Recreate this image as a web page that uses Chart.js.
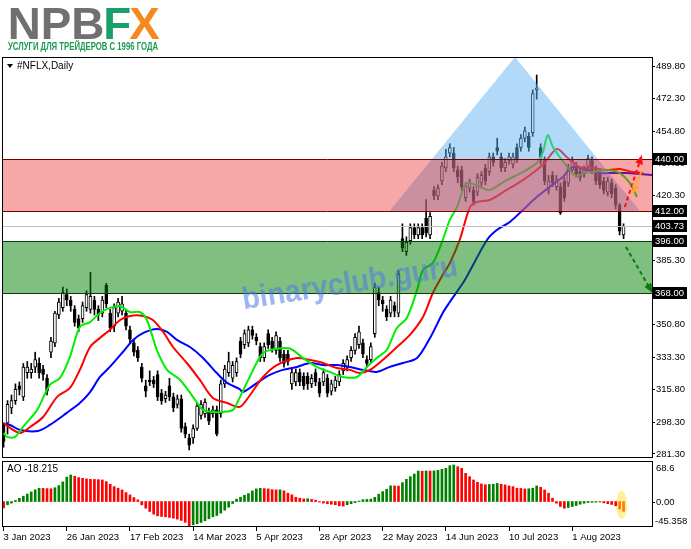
<!DOCTYPE html>
<html>
<head>
<meta charset="utf-8">
<script src="https://cdn.jsdelivr.net/npm/chart.js@4/dist/chart.umd.min.js"></script>
<style>
  body { margin: 0; background: #fff; width: 691px; height: 549px; overflow: hidden; position: relative; }
  canvas { position: absolute; left: 0; }
  #logo { top: 0; }
  #main { top: 57px; }
  #ao { top: 461px; }
</style>
</head>
<body>
<canvas id="logo" width="220" height="57"></canvas>
<canvas id="main" width="691" height="401"></canvas>
<canvas id="ao" width="691" height="88"></canvas>
<script>
// NFLX daily, 3 Jan 2023 .. 18 Aug 2023 (one value per bar)
var opens = [297,298,306,310,318,312,325,325,328,330,327,322,336,341,356,360,367,364,359,354,
  354,360,359,364,359,357,372,357,350,357,358,357,348,341,337,328,318,321,321,324,
  314,311,318,312,308,311,296,290,290,295,302,303,304,303,305,303,319,325,322,325,
  342,340,341,348,344,339,333,346,342,337,342,335,335,319,320,325,323,323,319,325,
  320,320,322,315,317,320,326,328,333,337,340,341,332,332,346,368,364,359,357,361,
  357,397,390,396,403,399,403,408,399,423,420,428,435,443,443,434,434,419,424,423,
  422,427,435,433,441,446,441,435,439,437,446,446,451,452,454,477,446,439,423,431,
  425,425,428,427,434,436,433,432,436,439,434,432,428,422,427,424,415,399];
var highs = [298,310,313,319,320,330,331,330,336,333,329,324,344,358,365,371,370,366,361,356,
  363,369,379,366,361,366,373,359,362,365,366,359,350,343,339,330,321,326,323,326,
  316,315,322,314,313,313,298,292,297,309,310,311,306,307,307,321,329,336,331,333,
  344,348,350,350,346,341,341,348,344,347,344,337,337,327,327,327,325,325,324,327,
  322,327,324,321,323,326,332,334,339,346,350,343,334,341,373,371,366,361,366,363,
  380,405,398,405,405,405,405,418,411,425,426,438,445,448,446,436,436,427,429,425,
  432,433,437,443,443,451,443,440,443,443,448,453,457,454,477,485,448,441,431,433,
  431,427,430,437,441,438,435,436,442,441,436,434,430,430,429,426,416,405];
var lows = [285,292,303,308,313,310,322,322,325,322,321,313,333,339,354,358,361,358,350,347,
  352,358,357,356,353,355,360,347,347,355,356,348,341,334,331,320,312,318,317,310,
  308,309,310,304,306,293,290,283.5,287,294,300,301,297,301,291,301,317,323,320,323,
  333,338,339,343,340,331,331,338,336,335,331,328,329,316,318,318,316,316,317,318,
  312,318,312,313,315,318,324,326,331,335,338,333,328,330,344,361,358,353,355,355,
  355,390,388,394,397,397,397,398,397,418,418,426,433,441,433,427,423,417,422,415,
  420,425,426,431,436,442,433,433,437,435,438,444,449,444,452,472,437,426,421,425,
  423,410,417,425,432,430,428,430,434,432,426,424,421,420,419,413,399,397];
var closes = [288,308,310,316,316,328,328,327,332,325,324,315,342,357,363,368,364,361,352,349,
  361,367,366,359,356,364,362,349,360,363,362,350,343,336,333,322,315,320,319,312,
  310,313,312,306,311,295,292,286,295,307,308,309,299,305,292,319,327,331,329,331,
  335,346,348,345,342,333,339,340,338,345,333,330,331,325,325,320,318,319,322,320,
  314,325,314,319,321,324,330,332,337,344,347,335,330,339,371,364,362,355,364,358,
  378,392,395,403,399,403,399,400,409,420,424,436,441,446,435,430,425,425,427,417,
  430,431,428,441,438,444,435,438,441,441,440,451,455,446,475,478,441,428,428,427,
  429,411,419,435,439,432,430,434,440,434,428,426,423,428,421,415,401,403.73];

// Alligator lines at sample bars (bar index, price)
var jawIdx = [0,1.6,4.2,8.7,11.7,16,19.3,21.9,24.4,26.9,30.2,32.8,35.3,38.8,41.4,43.9,47.2,50.5,54,56.6,
  59.8,60.6,64.2,67.4,70.7,74.3,77.6,80.9,84.4,87.7,91,94.5,97.8,101.1,104.7,108,111.2,113,116.8,122.4,
  124.9,128.2,131.5,135,138.3,141.6,144.1,147.7,151,154.3,157.8,161.1,164.2];
var jawVal = [297.4,296.9,294.2,293.7,296.9,303.4,308.7,314.6,322.7,328.1,336.1,342.6,346.3,348.5,346.9,342.6,338.8,332.9,324.8,319.5,
  316.2,314.6,319.5,323.8,326.5,328.1,330.2,329.1,329.1,328.1,326.5,325.4,328.1,330.2,332.9,343.7,357.1,363,374.8,396.3,
  401.7,406,412.4,419.4,424.8,430.2,435.5,433.9,432.3,432.3,432.3,431.8,431.2];
var teethIdx = [0,1.6,4.2,6.7,10,13.5,16.8,19.3,21.9,24.4,26.9,29.5,32,35.3,37.8,40.4,42.9,46.4,49.7,53,
  56.6,59.8,62.4,65.7,69.2,74.3,77.6,80.9,84.4,87.7,90.2,92.8,96,99.6,102.9,106.2,108.7,111.2,113,115.5,
  118.1,119.8,123.1,127.4,131.5,136.5,140.1,142.6,145.9,149.2,152.7,156,159.3,162];
var teethVal = [298,295.3,292.6,295.8,301.2,311.9,316.8,326.5,338.8,343.7,348,353.3,355.5,355.5,353.3,346.9,338.8,330.2,321.1,311.4,
  308.7,306.6,313,322.7,329.1,332.9,331.8,330.2,327.5,326.5,324.8,326.5,331.8,338.8,345.3,354.9,367.8,377.5,383.9,396.3,
  414,416.7,417.8,423.2,428.5,436.6,445.2,440.9,435.5,435,433.9,434.5,432.8,432.3];
var lipsIdx = [0,0.9,2.9,4.9,8.5,11.7,14.3,16.8,19.3,21.9,24.4,26.9,29.5,32,34.5,36.3,38.8,41.4,44.7,48,
  50.5,53,55.5,58.1,59.3,62.4,65.7,69.2,72.5,75.8,79.3,82.6,85.9,89.5,92,94.5,97,99.6,102.1,104.7,
  106.2,108.7,111.2,113,114.8,117.3,120.6,123.1,127.4,131.5,135,136.5,137.8,139.1,141.4,143.4,145.2,146.7,149.2,152.7,
  156,158.6,160.4];
var lipsVal = [292.6,290.5,290.5,295.8,305,318.4,322.2,333.5,349.6,352.2,357.1,359.8,360.8,357.6,357.6,353.3,337.2,326.5,321.1,311.9,
  305,303.9,303.9,305,309.5,323,335.6,337.8,338,332.9,328.1,325.4,322.7,322.7,328.1,332.9,337.2,349,354.4,369.4,
  380.2,384,396.3,407.1,414,426.9,424.8,423.2,428.5,432.8,437.7,443.1,452.7,446.3,439.3,433.9,430.2,432.3,432.8,433.9,
  432.3,426.9,419.4];

// Awesome Oscillator, one value per bar
var aoValues = [-12,-6,-3,2,6,10,14,18,22,25,24.7,24.3,24,26,30,37,46,49.8,47.4,44.9,
  43.6,42.4,41.7,41.5,41.1,40.5,37.4,32.4,28,25,21.8,16.8,12.5,7.5,3.1,-6.2,-12.5,-18.7,-23.7,-26.8,
  -28,-28.7,-29.9,-31.2,-33,-35.5,-39,-45.358,-43.6,-41.7,-39.3,-36.1,-32.4,-28.7,-26.2,-21.8,-16.2,-10.6,-3.7,4.4,
  8.1,11.8,15,20,23.7,24.9,24.3,23.7,22.4,21.8,22,20,15.6,12.5,8.1,6.2,5,5.3,4,2.5,
  -1,-3,-4,-5,-6,-8,-8.5,-6,-4,-2,1,3.5,4,4.5,8,13.7,18.7,23.1,29.5,29.3,
  29,35.5,41.7,46.7,51.7,57.3,57,57.4,57.2,57.5,58.6,60.4,62.3,67.3,68.6,65.4,62.3,53,46.7,40.5,
  36.1,33,31.5,32,32.5,34,32.4,31.2,29.3,28,24.9,24.6,23.7,24,25,29.3,26.8,21.8,15.6,6.2,
  -3.1,-9.3,-12.5,-11.2,-9.3,-7.5,-5,-3.1,-1.9,-1.5,-1.2,-0.8,-2.5,-4,-5.5,-8,-14,-18.215];

var tickIdx = [0,16,32,48,64,80,96,112,128,144];
var tickLabels = ['3 Jan 2023','26 Jan 2023','17 Feb 2023','14 Mar 2023','5 Apr 2023',
  '28 Apr 2023','22 May 2023','14 Jun 2023','10 Jul 2023','1 Aug 2023'];
var priceTicks = [489.8,472.3,454.8,437.3,420.3,402.8,385.3,367.8,350.8,333.3,315.8,298.3,281.3];
var aoTicks = [68.6, 0, -45.358];

// drawn objects on the chart
var resistZone = [412, 440];
var supportZone = [368, 396];
var lastPrice = 403.73;
var markedLevels = [440, 412, 403.73, 396, 368];
var triIdx = [97.8, 129.5, 161.1];
var triVal = [412, 494.6, 412];
var upArrowIdx = [157.3, 161.4];
var upArrowVal = [414, 440.4];
var midArrowIdx = [161.6, 159.6];
var midArrowVal = [433.5, 422.5];
var downArrowIdx = [157.6, 163.9];
var downArrowVal = [392.6, 369.4];

var FONT = '"Liberation Sans", Arial, sans-serif';
var xMin = -0.15, xMax = 164.2;

// ---- logo
(function () {
  var c = document.getElementById('logo').getContext('2d');
  c.save();
  c.scale(1.04, 1);
  c.font = 'bold 44px ' + FONT;
  c.textBaseline = 'alphabetic';
  c.fillStyle = '#707070';
  c.fillText('NPB', 7.5, 39);
  var w = c.measureText('NPB').width;
  c.fillStyle = '#17a06c';
  c.fillText('F', 7.5 + w - 1, 39);
  var wf = c.measureText('F').width;
  c.fillStyle = '#f5891f';
  c.fillText('X', 7.5 + w + wf - 3, 39);
  c.restore();
  c.font = 'bold 11px ' + FONT;
  c.fillStyle = '#1c9a50';
  c.fillText('УСЛУГИ ДЛЯ ТРЕЙДЕРОВ С 1996 ГОДА', 8, 50, 150);
})();

function frame(chart) {
  var a = chart.chartArea, ctx = chart.ctx;
  ctx.save();
  ctx.strokeStyle = '#000';
  ctx.lineWidth = 1;
  ctx.strokeRect(a.left - 0.5, a.top + 0.5, a.right - a.left + 1, a.bottom - a.top - 1);
  ctx.restore();
}

function noPad(s) {
  s.paddingTop = 0; s.paddingBottom = 0; s.paddingLeft = 0; s.paddingRight = 0;
}

function arrow(ctx, x1, y1, x2, y2, color, dash) {
  ctx.save();
  ctx.strokeStyle = color;
  ctx.fillStyle = color;
  ctx.lineWidth = 2;
  ctx.setLineDash(dash);
  ctx.beginPath(); ctx.moveTo(x1, y1); ctx.lineTo(x2, y2); ctx.stroke();
  ctx.setLineDash([]);
  var ang = Math.atan2(y2 - y1, x2 - x1);
  ctx.beginPath();
  ctx.moveTo(x2 + 3 * Math.cos(ang), y2 + 3 * Math.sin(ang));
  ctx.lineTo(x2 - 6 * Math.cos(ang) + 4 * Math.sin(ang), y2 - 6 * Math.sin(ang) - 4 * Math.cos(ang));
  ctx.lineTo(x2 - 6 * Math.cos(ang) - 4 * Math.sin(ang), y2 - 6 * Math.sin(ang) + 4 * Math.cos(ang));
  ctx.closePath(); ctx.fill();
  ctx.restore();
}

var mainOverlay = {
  id: 'mainOverlay',
  afterDatasetsDraw: function (chart) {
    var ctx = chart.ctx, a = chart.chartArea, x = chart.scales.x, y = chart.scales.y;
    ctx.save();
    ctx.beginPath(); ctx.rect(a.left, a.top, a.right - a.left, a.bottom - a.top); ctx.clip();

    // last price line
    var yl = Math.round(y.getPixelForValue(lastPrice)) + 0.5;
    ctx.strokeStyle = '#c0c0c0'; ctx.lineWidth = 1;
    ctx.beginPath(); ctx.moveTo(a.left, yl); ctx.lineTo(a.right, yl); ctx.stroke();

    // triangle
    ctx.fillStyle = 'rgba(95,175,240,0.48)';
    ctx.beginPath();
    triIdx.forEach(function (v, i) {
      var px = x.getPixelForValue(v), py = y.getPixelForValue(triVal[i]);
      if (i === 0) ctx.moveTo(px, py); else ctx.lineTo(px, py);
    });
    ctx.closePath(); ctx.fill();

    // zones
    function zone(z, fill, line) {
      var y1 = Math.round(y.getPixelForValue(z[1])) + 0.5, y0 = Math.round(y.getPixelForValue(z[0])) + 0.5;
      ctx.fillStyle = fill;
      ctx.fillRect(a.left, y1, a.right - a.left, y0 - y1);
      ctx.strokeStyle = line; ctx.lineWidth = 1;
      ctx.beginPath();
      ctx.moveTo(a.left, y1); ctx.lineTo(a.right, y1);
      ctx.moveTo(a.left, y0); ctx.lineTo(a.right, y0);
      ctx.stroke();
    }
    zone(resistZone, 'rgba(236,45,45,0.42)', '#7a0000');
    zone(supportZone, 'rgba(0,128,0,0.5)', '#0b3d0b');

    // scenario arrows
    arrow(ctx, x.getPixelForValue(upArrowIdx[0]), y.getPixelForValue(upArrowVal[0]),
      x.getPixelForValue(upArrowIdx[1]), y.getPixelForValue(upArrowVal[1]), '#ff1010', [4, 3]);
    arrow(ctx, x.getPixelForValue(midArrowIdx[0]), y.getPixelForValue(midArrowVal[0]),
      x.getPixelForValue(midArrowIdx[1]), y.getPixelForValue(midArrowVal[1]), 'rgba(255,170,30,0.85)', []);
    arrow(ctx, x.getPixelForValue(downArrowIdx[0]), y.getPixelForValue(downArrowVal[0]),
      x.getPixelForValue(downArrowIdx[1]), y.getPixelForValue(downArrowVal[1]), '#0a7a0a', [4, 3]);

    // watermark
    ctx.translate(350, 227);
    ctx.rotate(-0.155);
    ctx.font = 'bold 31px ' + FONT;
    ctx.textAlign = 'center';
    ctx.textBaseline = 'middle';
    ctx.fillStyle = 'rgba(80,120,225,0.55)';
    ctx.fillText('binaryclub.guru', 0, 0, 218);
    ctx.restore();
  },
  afterDraw: function (chart) {
    var ctx = chart.ctx, a = chart.chartArea, y = chart.scales.y;
    frame(chart);
    ctx.save();
    ctx.font = '9.5px ' + FONT;
    ctx.textBaseline = 'middle';
    markedLevels.forEach(function (v) {
      var py = Math.round(y.getPixelForValue(v));
      ctx.fillStyle = '#000';
      ctx.fillRect(a.right + 1, py - 6, 34, 12);
      ctx.fillStyle = '#fff';
      ctx.fillText(v.toFixed(2), a.right + 3, py + 0.5);
    });
    // symbol caption
    ctx.fillStyle = '#000';
    ctx.beginPath(); ctx.moveTo(7, 7); ctx.lineTo(13, 7); ctx.lineTo(10, 11); ctx.closePath(); ctx.fill();
    ctx.font = '10px ' + FONT;
    ctx.fillText('#NFLX,Daily', 17, 9.5);
    ctx.restore();
  }
};

var bars = opens.map(function (_, i) { return i; });

new Chart(document.getElementById('main'), {
  type: 'bar',
  data: {
    datasets: [
      { type: 'line', data: lipsIdx.map(function (v, i) { return { x: v, y: lipsVal[i] }; }),
        borderColor: '#00ee00', borderWidth: 2, pointRadius: 0, tension: 0.3, order: 0 },
      { type: 'line', data: teethIdx.map(function (v, i) { return { x: v, y: teethVal[i] }; }),
        borderColor: '#ff0000', borderWidth: 2, pointRadius: 0, tension: 0.3, order: 1 },
      { type: 'line', data: jawIdx.map(function (v, i) { return { x: v, y: jawVal[i] }; }),
        borderColor: '#0000ff', borderWidth: 2, pointRadius: 0, tension: 0.3, order: 2 },
      { data: bars.map(function (i) { return { x: i, y: [opens[i], closes[i]] }; }),
        backgroundColor: bars.map(function (i) { return closes[i] >= opens[i] ? '#ffffff' : '#000000'; }),
        borderColor: '#000', borderWidth: 1, borderSkipped: false, barThickness: 3,
        minBarLength: 1, grouped: false, order: 3 },
      { data: bars.map(function (i) { return { x: i, y: [lows[i], highs[i]] }; }),
        backgroundColor: '#000', barThickness: 1, grouped: false, order: 4 }
    ]
  },
  options: {
    responsive: false, animation: false, events: [],
    layout: { padding: { left: 3, right: 0, top: 0, bottom: 0 } },
    plugins: { legend: { display: false }, tooltip: { enabled: false } },
    scales: {
      x: { type: 'linear', min: xMin, max: xMax, offset: false, display: false, grid: { offset: false } },
      y: {
        position: 'right', min: 279.15, max: 494.64,
        afterFit: function (s) { s.width = 39; noPad(s); },
        afterBuildTicks: function (s) { s.ticks = priceTicks.map(function (v) { return { value: v }; }); },
        ticks: { callback: function (v) { return v.toFixed(2); }, font: { family: FONT, size: 9.5 }, color: '#000', padding: 1, autoSkip: false },
        grid: { drawOnChartArea: false, drawTicks: true, tickLength: 3, color: '#000' },
        border: { display: false }
      }
    }
  },
  plugins: [mainOverlay]
});

var aoOverlay = {
  id: 'aoOverlay',
  beforeDatasetsDraw: function (chart) {
    var ctx = chart.ctx, x = chart.scales.x, y = chart.scales.y;
    var n = aoValues.length;
    ctx.save();
    ctx.fillStyle = 'rgba(255,236,140,0.85)';
    ctx.beginPath();
    ctx.ellipse(x.getPixelForValue(n - 1.5), y.getPixelForValue(-6), 5.5, 14, 0, 0, Math.PI * 2);
    ctx.fill();
    ctx.restore();
  },
  afterDraw: function (chart) {
    var ctx = chart.ctx, a = chart.chartArea, y = chart.scales.y;
    frame(chart);
    ctx.save();
    ctx.fillStyle = '#000';
    ctx.font = '10px ' + FONT;
    ctx.textBaseline = 'middle';
    ctx.fillText('AO ' + aoValues[aoValues.length - 1].toFixed(3), 7, 8.5);
    ctx.font = '9.5px ' + FONT;
    ctx.textBaseline = 'top';
    ctx.fillText(String(aoTicks[0]), a.right + 4, a.top + 3);
    ctx.textBaseline = 'middle';
    var pz = Math.round(y.getPixelForValue(aoTicks[1])) + 0.5;
    ctx.fillText(aoTicks[1].toFixed(2), a.right + 4, pz);
    ctx.strokeStyle = '#000';
    ctx.beginPath(); ctx.moveTo(a.right, pz); ctx.lineTo(a.right + 3, pz); ctx.stroke();
    ctx.textBaseline = 'bottom';
    ctx.fillText(String(aoTicks[2]), a.right + 3, a.bottom - 0.5);
    ctx.restore();
  }
};

var aoColors = aoValues.map(function (v, i) {
  if (i >= aoValues.length - 2) return '#ff7a00';
  if (i === 0) return '#ff0000';
  return v > aoValues[i - 1] ? '#008000' : '#ff0000';
});

new Chart(document.getElementById('ao'), {
  type: 'bar',
  data: {
    datasets: [{
      data: aoValues.map(function (v, i) { return { x: i, y: v }; }),
      backgroundColor: aoColors, barThickness: 2, grouped: false
    }]
  },
  options: {
    responsive: false, animation: false, events: [],
    layout: { padding: { left: 3, right: 0, top: 0, bottom: 0 } },
    plugins: { legend: { display: false }, tooltip: { enabled: false } },
    scales: {
      x: {
        type: 'linear', min: xMin, max: xMax, offset: false, position: 'bottom',
        afterFit: function (s) { s.height = 22; noPad(s); },
        afterBuildTicks: function (s) { s.ticks = tickIdx.map(function (v) { return { value: v }; }); },
        ticks: { callback: function (v, i) { return tickLabels[i]; }, align: 'start', font: { family: FONT, size: 9.5 },
          color: '#000', padding: 1, maxRotation: 0, autoSkip: false },
        grid: { drawOnChartArea: false, drawTicks: true, tickLength: 4, color: '#000', offset: false },
        border: { display: false }
      },
      y: {
        position: 'right', min: -47.8, max: 76.1,
        afterFit: function (s) { s.width = 39; noPad(s); },
        ticks: { display: false }, grid: { display: false }, border: { display: false }
      }
    }
  },
  plugins: [aoOverlay]
});
</script>
</body>
</html>
